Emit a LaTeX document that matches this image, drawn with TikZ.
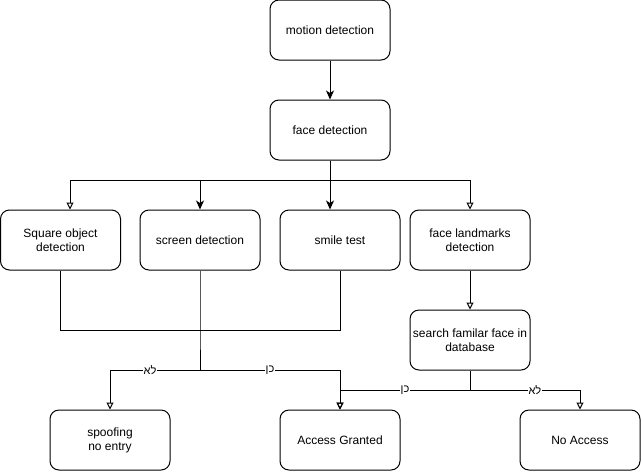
\documentclass[tikz,border=0pt]{standalone}
\usepackage{fontspec}
\setmainfont{Liberation Sans}
\newfontfamily\hebfont[Script=Hebrew]{Liberation Sans}
\TeXXeTstate=1
\usetikzlibrary{arrows.meta}
\begin{document}
\begin{tikzpicture}[x=1pt,y=-1pt,
  box/.style={draw, line width=1pt, rounded corners=9pt, minimum width=120pt, minimum height=60pt,
    align=center, inner sep=0pt, font=\fontsize{12}{14}\selectfont},
  conn/.style={line width=1pt},
  filledarrow/.style={conn, -{Stealth[length=9pt,width=8pt,inset=2.5pt]}},
  openarrow/.style={conn, -{Triangle[open,length=7pt,width=7pt]}},
  lbl/.style={fill=white, inner sep=1pt, font=\hebfont\fontsize{11}{12}\selectfont}]
\useasboundingbox (0,0) rectangle (642,472);
\node[box] (motion) at (330,30) {motion detection};
\node[box] (face) at (330,130) {face detection};
\node[box] (square) at (60.5,240) {Square object\\detection};
\node[box] (screen) at (200,240) {screen detection};
\node[box] (smile) at (340,240) {smile test};
\node[box] (landmarks) at (470,240) {face landmarks\\detection};
\node[box] (search) at (470,340) {search familar face in\\database};
\node[box] (spoof) at (110,440) {spoofing\\no entry};
\node[box] (granted) at (340,440) {Access Granted};
\node[box] (noaccess) at (580,440) {No Access};
\coordinate (j1) at (330,180);
\coordinate (j2) at (200,330);
\coordinate (j3) at (200,370);
\coordinate (j4) at (470,390);
\draw[filledarrow] (motion) -- (face);
\draw[conn] (face.south) -- (j1);
\draw[openarrow] (j1) -| ([xshift=9.5pt]square.north);
\draw[filledarrow] (j1) -| (screen.north);
\draw[filledarrow] (j1) -- ([xshift=-10pt]smile.north);
\draw[openarrow] (j1) -| (landmarks.north);
\draw[conn] (square.south) |- (j2);
\draw[conn] (smile.south) |- (j2);
\draw[conn] (screen.south) -- (j2) -- (j3);
\draw[openarrow] (j3) -| node[lbl,pos=0.278] {\beginR לא\endR} (spoof.north);
\draw[openarrow] (j3) -| node[lbl,pos=0.25] {\beginR כן\endR} (granted.north);
\draw[openarrow] (landmarks) -- (search);
\draw[conn] (search.south) -- (j4);
\draw[openarrow] (j4) -| node[lbl,pos=0.25] {\beginR כן\endR} (granted.north);
\draw[openarrow] (j4) -| node[lbl,pos=0.295] {\beginR לא\endR} (noaccess.north);
\end{tikzpicture}
\end{document}
